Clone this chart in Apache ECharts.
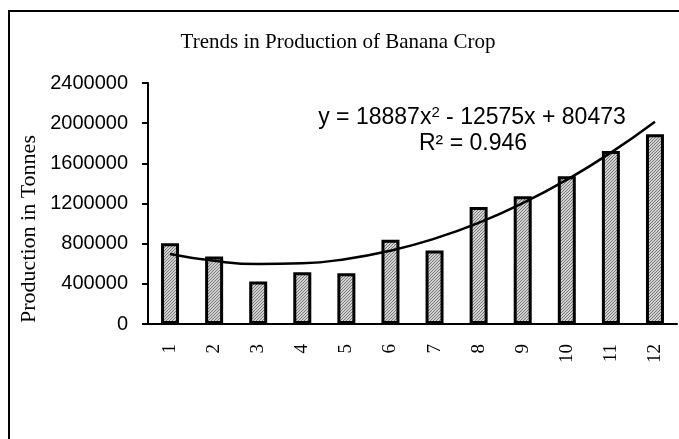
<!DOCTYPE html>
<html>
<head>
<meta charset="utf-8">
<script src="https://cdn.jsdelivr.net/npm/echarts@6/dist/echarts.min.js"></script>
<style>
  html, body { margin: 0; padding: 0; background: #fff; }
  #main { width: 679px; height: 439px; }
</style>
</head>
<body>
<div id="main"></div>
<script>
// years numbered 1..12
var categories = ['1', '2', '3', '4', '5', '6', '7', '8', '9', '10', '11', '12'];
// production in tonnes
var production = [805000, 672000, 422000, 515000, 505000, 840000, 732000, 1165000, 1272000, 1472000, 1722000, 1890000];
// polynomial trend line as drawn, read at each year
var trend = [698000, 629000, 597000, 604000, 648000, 730000, 850000, 1007000, 1203000, 1436000, 1707000, 2015000];
var yTicks = [0, 400000, 800000, 1200000, 1600000, 2000000, 2400000];

// stippled grey fill like the original bars
function makePattern() {
    var c = document.createElement('canvas');
    c.width = 3;
    c.height = 3;
    var ctx = c.getContext('2d');
    ctx.fillStyle = '#cfcfcf';
    ctx.fillRect(0, 0, 3, 3);
    ctx.fillStyle = '#7c7c7c';
    ctx.fillRect(0, 0, 1, 1);
    ctx.fillRect(2, 1, 1, 1);
    ctx.fillRect(1, 2, 1, 1);
    return c;
}

var sans = '"Liberation Sans", Arial, sans-serif';
var serif = '"Liberation Serif", "Times New Roman", serif';

var option = {
    animation: false,
    backgroundColor: '#fff',
    grid: { left: 148, right: 2, top: 83, bottom: 115 },
    xAxis: {
        type: 'category',
        data: categories,
        axisLine: { lineStyle: { color: '#000', width: 2 } },
        axisTick: { length: 6, lineStyle: { color: '#000', width: 2 } },
        axisLabel: {
            rotate: 90,
            margin: 20,
            color: '#000',
            fontFamily: serif,
            fontSize: 19
        }
    },
    yAxis: {
        type: 'value',
        min: yTicks[0],
        max: yTicks[yTicks.length - 1],
        interval: yTicks[1] - yTicks[0],
        splitLine: { show: false },
        axisLine: { show: true, lineStyle: { color: '#000', width: 2 } },
        axisTick: { show: true, length: 6, lineStyle: { color: '#000', width: 2 } },
        axisLabel: {
            margin: 20,
            color: '#000',
            fontFamily: sans,
            fontSize: 20,
            formatter: function (v) { return String(v); }
        }
    },
    series: [
        {
            name: 'Production',
            type: 'bar',
            data: production,
            barWidth: 18,
            itemStyle: {
                color: { image: makePattern(), repeat: 'repeat' },
                borderColor: '#000',
                borderWidth: 3
            }
        },
        {
            name: 'Trend',
            type: 'line',
            data: trend,
            smooth: true,
            symbol: 'none',
            lineStyle: { color: '#000', width: 2.5 },
            z: 5
        }
    ],
    graphic: [
        {
            type: 'rect',
            shape: { x: 9, y: 11, width: 720, height: 500 },
            style: { fill: 'none', stroke: '#000', lineWidth: 2 },
            silent: true
        },
        {
            type: 'text',
            x: 338,
            y: 42,
            style: {
                text: 'Trends in Production of Banana Crop',
                fontFamily: serif,
                fontSize: 21,
                fill: '#000',
                align: 'center',
                verticalAlign: 'middle'
            }
        },
        {
            type: 'text',
            x: 29,
            y: 229,
            rotation: Math.PI / 2,
            style: {
                text: 'Production in Tonnes',
                fontFamily: serif,
                fontSize: 22,
                fill: '#000',
                align: 'center',
                verticalAlign: 'middle'
            }
        },
        {
            type: 'text',
            x: 472,
            y: 118,
            style: {
                text: '{a|y = 18887x}{s|2}{a| - 12575x + 80473}',
                align: 'center',
                verticalAlign: 'middle',
                rich: {
                    a: { fontFamily: sans, fontSize: 23, fill: '#000', color: '#000' },
                    s: { fontFamily: sans, fontSize: 15, fill: '#000', color: '#000', verticalAlign: 'top', padding: [0, 0, 10, 0] }
                }
            }
        },
        {
            type: 'text',
            x: 473,
            y: 144,
            style: {
                text: 'R² = 0.946',
                fontFamily: sans,
                fontSize: 23,
                fill: '#000',
                align: 'center',
                verticalAlign: 'middle'
            }
        }
    ]
};

var myChart = echarts.init(document.getElementById('main'));
myChart.setOption(option);
</script>
</body>
</html>
